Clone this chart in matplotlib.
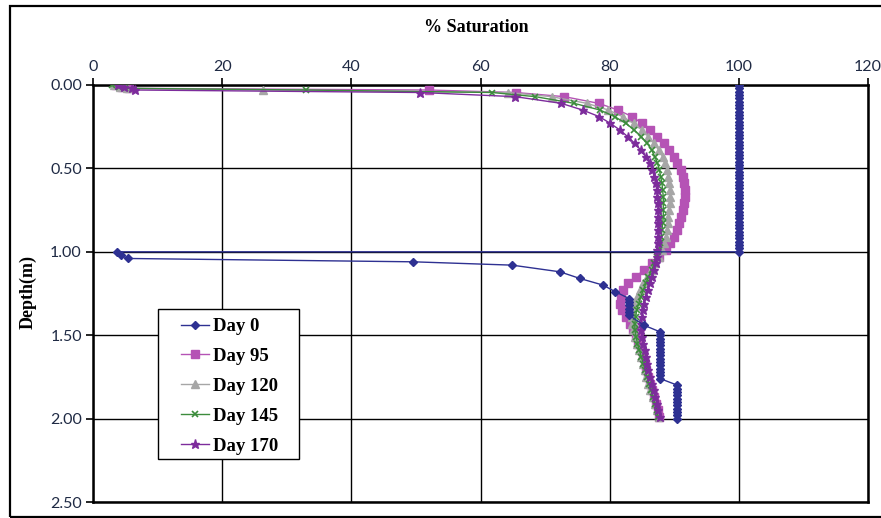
import matplotlib
matplotlib.use("Agg")
import matplotlib.pyplot as plt
from matplotlib.patches import Rectangle
from matplotlib.ticker import FormatStrFormatter

# --- datos ---
# dia 0: perfil inicial (saturado hasta 1 m, luego seco y humedecido abajo)
day0_depth = [0.00, 0.02, 0.04, 0.06, 0.08, 0.10, 0.12, 0.14, 0.16, 0.18,
              0.20, 0.22, 0.24, 0.26, 0.28, 0.30, 0.32, 0.34, 0.36, 0.38,
              0.40, 0.42, 0.44, 0.46, 0.48, 0.50, 0.52, 0.54, 0.56, 0.58,
              0.60, 0.62, 0.64, 0.66, 0.68, 0.70, 0.72, 0.74, 0.76, 0.78,
              0.80, 0.82, 0.84, 0.86, 0.88, 0.90, 0.92, 0.94, 0.96, 0.98,
              1.00, 1.00, 1.02, 1.04, 1.06, 1.08, 1.12, 1.16, 1.20, 1.24,
              1.28, 1.30, 1.32, 1.34, 1.36, 1.38, 1.44, 1.48, 1.50, 1.52,
              1.54, 1.56, 1.58, 1.60, 1.62, 1.64, 1.66, 1.68, 1.70, 1.72,
              1.74, 1.76, 1.80, 1.82, 1.84, 1.86, 1.88, 1.90, 1.92, 1.94,
              1.96, 1.98, 2.00]
day0_sat = [100.0] * 51 + [3.7, 4.3, 5.4, 49.6, 64.9, 72.3, 75.4, 79.0, 80.9,
                           83.0, 83.0, 83.0, 83.0, 83.0, 83.0, 85.3,
                           87.8, 87.8, 87.8, 87.8, 87.8, 87.8, 87.8, 87.8,
                           87.8, 87.8, 87.8, 87.8, 87.8, 87.8, 87.8,
                           90.5, 90.5, 90.5, 90.5, 90.5, 90.5, 90.5, 90.5,
                           90.5, 90.5, 90.5]

# nodos comunes de los dias 95-170
depth = [0.00, 0.01, 0.02, 0.03, 0.045, 0.07,
         0.11, 0.15, 0.19, 0.23, 0.27, 0.31, 0.35, 0.39, 0.43, 0.47,
         0.51, 0.55, 0.59, 0.63, 0.67, 0.71, 0.75, 0.79, 0.83, 0.87,
         0.91, 0.95, 0.99, 1.03, 1.07, 1.11, 1.15, 1.19, 1.23, 1.27,
         1.31, 1.35, 1.39, 1.43, 1.47, 1.51, 1.55, 1.59, 1.63, 1.67,
         1.71, 1.75, 1.79, 1.83, 1.87, 1.91, 1.95, 1.99]

day95 = [3.5, 4.5, 5.5, 52.0, 65.5, 73.0,
         78.3, 81.3, 83.5, 85.0, 86.3, 87.4, 88.4, 89.2, 89.9, 90.5,
         91.0, 91.3, 91.5, 91.6, 91.6, 91.5, 91.3, 91.1, 90.8, 90.4,
         90.0, 89.4, 88.7, 87.7, 86.5, 85.3, 84.0, 82.9, 82.1, 81.7,
         81.6, 81.9, 82.5, 83.1, 83.6, 84.0, 84.4, 84.8, 85.1, 85.4,
         85.7, 86.0, 86.3, 86.6, 86.9, 87.2, 87.5, 87.7]

day120 = [3.3, 4.2, 5.2, 26.3, 64.3, 71.0,
          76.5, 79.8, 82.0, 83.7, 85.0, 86.0, 86.9, 87.6, 88.2, 88.6,
          88.9, 89.1, 89.2, 89.3, 89.3, 89.3, 89.2, 89.1, 89.0, 88.9,
          88.7, 88.4, 88.1, 87.6, 87.0, 86.4, 85.8, 85.2, 84.7, 84.2,
          83.8, 83.5, 83.4, 83.4, 83.6, 83.9, 84.2, 84.5, 84.8, 85.1,
          85.4, 85.7, 86.0, 86.3, 86.7, 87.0, 87.3, 87.6]

day145 = [2.9, 4.0, 5.0, 33.0, 61.8, 68.5,
          74.5, 78.5, 80.8, 82.5, 83.8, 84.9, 85.8, 86.5, 87.0, 87.4,
          87.7, 87.9, 88.1, 88.2, 88.3, 88.3, 88.3, 88.3, 88.2, 88.1,
          88.0, 87.8, 87.6, 87.3, 86.9, 86.5, 86.0, 85.6, 85.2, 84.8,
          84.5, 84.2, 84.0, 83.9, 83.9, 84.1, 84.3, 84.6, 84.9, 85.2,
          85.5, 85.8, 86.1, 86.4, 86.7, 87.0, 87.3, 87.5]

day170 = [3.8, 4.8, 6.0, 6.5, 50.7, 65.4,
          72.5, 75.8, 78.4, 80.1, 81.6, 82.8, 83.9, 84.8, 85.6, 86.2,
          86.6, 86.9, 87.1, 87.3, 87.4, 87.5, 87.5, 87.5, 87.5, 87.5,
          87.5, 87.5, 87.4, 87.3, 87.1, 86.8, 86.5, 86.2, 85.9, 85.6,
          85.3, 85.1, 85.0, 84.9, 84.9, 85.0, 85.2, 85.4, 85.6, 85.8,
          86.0, 86.3, 86.5, 86.8, 87.0, 87.3, 87.5, 87.8]

x_ticks = [0, 20, 40, 60, 80, 100, 120]
y_ticks = [0.0, 0.5, 1.0, 1.5, 2.0, 2.5]

W, H = 881, 518
AX_L, AX_R, AX_T, AX_B = 93, 868, 85, 502   # area de trazado en pixeles
fig = plt.figure(figsize=(W / 100, H / 100), dpi=100)
ax = fig.add_axes([AX_L / W, (H - AX_B) / H, (AX_R - AX_L) / W, (AX_B - AX_T) / H])


def px_to_ax(x, y):
    return (x - AX_L) / (AX_R - AX_L), (AX_B - y) / (AX_B - AX_T)


# marco exterior del area del grafico
fig.patches.append(Rectangle((9.5 / W, 1.5 / H), 1.2, (516 - 5) / H,
                             transform=fig.transFigure, fill=False,
                             edgecolor="black", lw=1.6))

ax.plot(day0_sat, day0_depth, color="#2E3192", lw=1.0, marker="D", ms=4.2,
        label="Day 0", zorder=6)
ax.plot(day95, depth, color="#B553B5", lw=1.0, marker="s", ms=6.2,
        label="Day 95", zorder=3)
ax.plot(day120, depth, color="#A6A6A6", lw=1.0, marker="^", ms=5.8,
        label="Day 120", zorder=4)
ax.plot(day145, depth, color="#3C8C3C", lw=1.0, marker="x", ms=5, mew=1.2,
        label="Day 145", zorder=5)
ax.plot(day170, depth, color="#7D2C9C", lw=1.0, marker="*", ms=6.8,
        label="Day 170", zorder=5)

ax.set_xlim(0, 120)
ax.set_ylim(2.5, 0)
ax.set_xticks(x_ticks)
ax.set_yticks(y_ticks)
ax.yaxis.set_major_formatter(FormatStrFormatter("%.2f"))
ax.xaxis.tick_top()
ax.tick_params(axis="both", direction="out", length=5, width=1.2,
               color="black", labelsize=11.5, labelcolor="#1F2A44", pad=3)
for lab in ax.get_xticklabels() + ax.get_yticklabels():
    lab.set_family("Lato")
ax.grid(True, color="black", lw=1.0)
ax.set_axisbelow(True)
for sp in ax.spines.values():
    sp.set_linewidth(1.8)
    sp.set_color("black")

fig.text(476 / W, 1 - 27 / H, "% Saturation", ha="center", va="center",
         family="Liberation Serif", weight="bold", fontsize=13)
fig.text(28 / W, 1 - 292 / H, "Depth(m)", ha="center", va="center",
         rotation=90, family="Liberation Serif", weight="bold", fontsize=13)

# caja de la leyenda dibujada aparte (margen horizontal amplio como en Excel)
bx0, by1 = px_to_ax(158, 459)
bx1, by0 = px_to_ax(299, 309)
ax.add_patch(Rectangle((bx0, by1), bx1 - bx0, by0 - by1, transform=ax.transAxes,
                       facecolor="white", edgecolor="black", lw=1.0, zorder=9,
                       clip_on=False))
leg = ax.legend(loc="upper left", bbox_to_anchor=px_to_ax(181, 318),
                borderaxespad=0, borderpad=0, frameon=False,
                handlelength=1.5, labelspacing=0.68, handletextpad=0.2,
                prop={"family": "Liberation Serif", "weight": "bold", "size": 13.5})
leg.set_zorder(10)

fig.savefig("out.png", dpi=100)
